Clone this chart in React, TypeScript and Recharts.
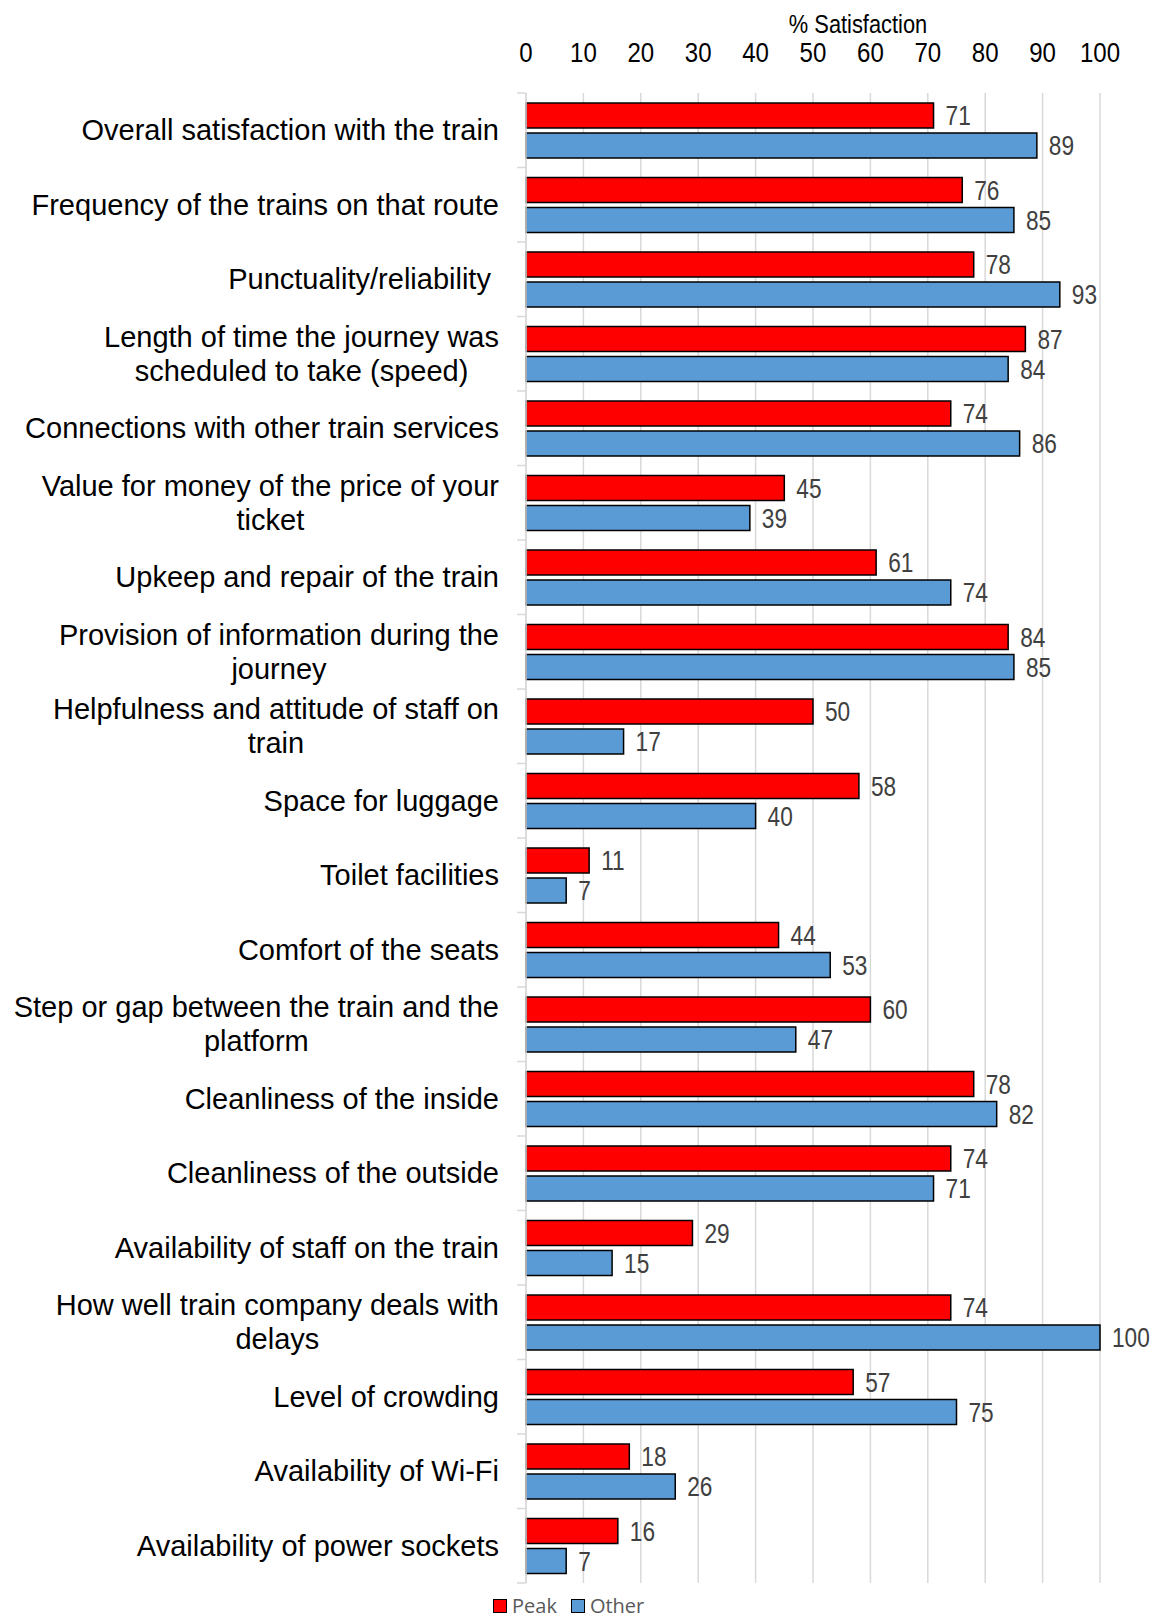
import React from 'react';
import { BarChart, Bar, XAxis, YAxis, CartesianGrid, LabelList, Legend } from 'recharts';

const categories = [
  'Overall satisfaction with the train',
  'Frequency of the trains on that route',
  'Punctuality/reliability ',
  'Length of time the journey was\nscheduled to take (speed)',
  'Connections with other train services',
  'Value for money of the price of your\nticket',
  'Upkeep and repair of the train',
  'Provision of information during the\njourney',
  'Helpfulness and attitude of staff on\ntrain',
  'Space for luggage',
  'Toilet facilities',
  'Comfort of the seats',
  'Step or gap between the train and the\nplatform',
  'Cleanliness of the inside',
  'Cleanliness of the outside',
  'Availability of staff on the train',
  'How well train company deals with\ndelays',
  'Level of crowding',
  'Availability of Wi-Fi',
  'Availability of power sockets',
];
const peak = [71, 76, 78, 87, 74, 45, 61, 84, 50, 58, 11, 44, 60, 78, 74, 29, 74, 57, 18, 16];
const other = [89, 85, 93, 84, 86, 39, 74, 85, 17, 40, 7, 53, 47, 82, 71, 15, 100, 75, 26, 7];
const xTicks = [0, 10, 20, 30, 40, 50, 60, 70, 80, 90, 100];
const seriesNames = ['Peak', 'Other'];
const axisTitle = '% Satisfaction';

const data = categories.map((c, i) => ({ name: c, peak: peak[i], other: other[i] }));

const W = 1154;
const H = 1618;
const X_AXIS_H = 30;
const M = { top: 93 - X_AXIS_H, right: 54, bottom: 35, left: 0 };
const YW = 526;
const BAND = (H - 93 - M.bottom) / categories.length;
const RED = '#FF0000';
const BLUE = '#5B9BD5';
const SANS = "'Liberation Sans', Arial, sans-serif";
const LABEL_SIZE = 29;

let ctx: CanvasRenderingContext2D | null = null;
function measure(t: string) {
  if (!ctx) ctx = document.createElement('canvas').getContext('2d');
  if (!ctx) return t.length * 14;
  ctx.font = `${LABEL_SIZE}px ${SANS}`;
  return ctx.measureText(t).width;
}

function CategoryTick(props: any) {
  const { y, payload } = props;
  const lines = String(payload.value).split('\n');
  const right = 499;
  const maxW = Math.max(...lines.map(measure));
  const cx = right - maxW / 2;
  const lh = 34;
  const y0 = y - ((lines.length - 1) * lh) / 2;
  const isLast = payload.value === categories[categories.length - 1];
  return (
    <g>
      <line x1={YW - 9} x2={YW} y1={y - BAND / 2} y2={y - BAND / 2} stroke="#d9d9d9" strokeWidth={1.5} />
      {isLast && <line x1={YW - 9} x2={YW} y1={y + BAND / 2} y2={y + BAND / 2} stroke="#d9d9d9" strokeWidth={1.5} />}
      {lines.map((l, i) => (
        <text
          key={i}
          x={lines.length > 1 ? cx : right}
          y={y0 + i * lh}
          textAnchor={lines.length > 1 ? 'middle' : 'end'}
          dominantBaseline="central"
          style={{ whiteSpace: 'pre' }}
          fontSize={LABEL_SIZE}
          fontFamily={SANS}
          fill="#000"
        >
          {l}
        </text>
      ))}
    </g>
  );
}

function XTick(props: any) {
  const { x, y, payload } = props;
  return (
    <text
      transform={`translate(${x},${y}) scale(0.86,1)`}
      textAnchor="middle"
      fontSize={28}
      fontFamily={SANS}
      fill="#000"
    >
      {payload.value}
    </text>
  );
}

function ValueLabel(props: any) {
  const { x, y, width, height, value } = props;
  const tx = Number(x) + Number(width) + 12;
  const ty = Number(y) + Number(height) / 2;
  return (
    <text
      transform={`translate(${tx},${ty}) scale(0.84,1)`}
      dominantBaseline="central"
      fontSize={27}
      fontFamily={SANS}
      fill="#404040"
    >
      {value}
    </text>
  );
}

function LegendContent() {
  const items = [
    { name: seriesNames[0], color: RED },
    { name: seriesNames[1], color: BLUE },
  ];
  return (
    <div style={{ display: 'flex', alignItems: 'center', fontFamily: "'Open Sans', sans-serif", fontSize: 20, lineHeight: '20px', color: '#595959', whiteSpace: 'nowrap' }}>
      {items.map((it, i) => (
        <div key={i} style={{ display: 'flex', alignItems: 'center', marginRight: 14 }}>
          <span style={{ display: 'inline-block', width: 12, height: 12, background: it.color, border: '1.5px solid #000', marginRight: 5 }} />
          <span>{it.name}</span>
        </div>
      ))}
    </div>
  );
}

export default function App() {
  return (
    <div style={{ position: 'absolute', left: 0, top: 0, width: W, height: H, background: '#fff' }}>
      <BarChart width={W} height={H} data={data} layout="vertical" margin={M} barGap={5}>
        <CartesianGrid horizontal={false} stroke="#d9d9d9" strokeWidth={1.5} />
        <XAxis
          type="number"
          domain={[0, 100]}
          ticks={xTicks}
          orientation="top"
          height={X_AXIS_H}
          axisLine={false}
          tickLine={false}
          tickSize={0}
          tickMargin={31}
          interval={0}
          tick={(p: any) => <XTick {...p} />}
          label={{
            content: () => (
              <text
                transform={`translate(858,33) scale(0.84,1)`}
                textAnchor="middle"
                fontSize={26}
                fontFamily={SANS}
                fill="#000"
              >
                {axisTitle}
              </text>
            ),
          }}
        />
        <YAxis
          type="category"
          dataKey="name"
          width={YW}
          axisLine={{ stroke: '#d9d9d9', strokeWidth: 1.5 }}
          tickLine={false}
          interval={0}
          tick={(p: any) => <CategoryTick {...p} />}
        />
        <Legend
          verticalAlign="middle"
          align="center"
          layout="horizontal"
          content={() => <LegendContent />}
          wrapperStyle={{ position: 'absolute', left: 493, top: 1596, width: 'auto', bottom: 'auto', right: 'auto' }}
        />
        <Bar dataKey="peak" name={seriesNames[0]} fill={RED} stroke="#000" strokeWidth={1.5} barSize={25} isAnimationActive={false}>
          <LabelList dataKey="peak" content={(p: any) => <ValueLabel {...p} />} />
        </Bar>
        <Bar dataKey="other" name={seriesNames[1]} fill={BLUE} stroke="#000" strokeWidth={1.5} barSize={25} isAnimationActive={false}>
          <LabelList dataKey="other" content={(p: any) => <ValueLabel {...p} />} />
        </Bar>
      </BarChart>
    </div>
  );
}
